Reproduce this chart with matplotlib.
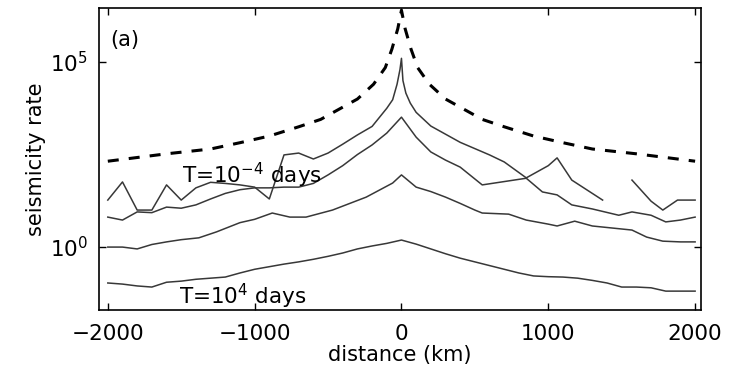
import numpy as np
import matplotlib
matplotlib.use("Agg")
import matplotlib.pyplot as plt

# distance from the fault centre (km) and log10 of seismicity rate for each curve
dist_dashed = [0, 25, 65, 110, 190, 300, 400, 550, 700, 900, 1100, 1300, 1600, 2000]
log_dashed = [6.4, 5.9, 5.35, 4.85, 4.4, 4.0, 3.78, 3.45, 3.25, 3.0, 2.82, 2.65, 2.52, 2.32]

# T = 1e-4 days (noisy, gaps where no events)
x_t1 = [-2000, -1900, -1800, -1700, -1600, -1500, -1400, -1300, -1200, -1100, -1000, -900,
        -800, -700, -600, -500, -400, -300, -200, -100, -60, -30, -10, 0, 10, 30, 60, 100,
        200, 300, 400, 500, 600, 700, 850, 1000, 1060, 1160, 1370, 1470, 1570, 1700, 1780,
        1880, 2000]
log_t1 = [1.27, 1.76, 1.0, 1.0, 1.68, 1.27, 1.6, 1.75, 1.72, 1.68, 1.62, 1.3,
          2.49, 2.54, 2.38, 2.54, 2.78, 3.03, 3.26, 3.75, 3.98, 4.4, 4.8, 5.1, 4.5, 4.16, 3.89, 3.64,
          3.27, 3.05, 2.83, 2.66, 2.49, 2.3, 1.87, 2.2, 2.41, 1.81, 1.27, np.nan, 1.81, 1.24, 1.0,
          1.27, 1.27]

x_t2 = [-2000, -1900, -1800, -1700, -1600, -1500, -1400, -1300, -1200, -1100, -1000, -900,
        -800, -700, -600, -500, -400, -300, -200, -100, 0, 100, 200, 300, 400, 500, 550,
        850, 960, 1060, 1160, 1300, 1480, 1570, 1700, 1800, 1900, 2000]
log_t2 = [0.81, 0.73, 0.95, 0.93, 1.08, 1.05, 1.14, 1.3, 1.45, 1.55, 1.6, 1.6,
          1.62, 1.62, 1.72, 1.95, 2.2, 2.5, 2.76, 3.08, 3.51, 2.97, 2.57, 2.35, 2.16, 1.84, 1.68,
          1.86, 1.49, 1.41, 1.14, 1.03, 0.86, 0.95, 0.86, 0.68, 0.73, 0.81]

x_t3 = [-2000, -1900, -1800, -1700, -1600, -1500, -1380, -1260, -1100, -1000, -880, -760,
        -650, -470, -240, -60, 0, 100, 200, 300, 400, 500, 550, 730, 850, 1000, 1060, 1180,
        1300, 1570, 1670, 1780, 1900, 2000]
log_t3 = [0.0, 0.0, -0.05, 0.07, 0.14, 0.2, 0.25, 0.41, 0.66, 0.75, 0.92, 0.81,
          0.81, 1.0, 1.35, 1.73, 1.95, 1.62, 1.5, 1.35, 1.18, 1.0, 0.92, 0.89, 0.73, 0.62, 0.57, 0.7,
          0.57, 0.46, 0.27, 0.16, 0.14, 0.14]

# T = 1e4 days
x_t4 = list(range(-2000, 2001, 100))
log_t4 = [-0.97, -1.0, -1.05, -1.08, -0.95, -0.92, -0.87, -0.84, -0.81, -0.7, -0.6,
          -0.53, -0.46, -0.4, -0.33, -0.25, -0.16, -0.05, 0.03, 0.1, 0.19,
          0.08, -0.05, -0.18, -0.3, -0.4, -0.5, -0.6, -0.7, -0.78, -0.8,
          -0.81, -0.84, -0.9, -0.97, -1.08, -1.08, -1.1, -1.19, -1.19, -1.19]

plt.rcParams['font.family'] = ['DejaVu Sans']

fig = plt.figure(figsize=(7.41, 3.73), dpi=100)
ax = fig.add_axes([0.1336, 0.1689, 0.8124, 0.8097])

d = np.array(dist_dashed, dtype=float)
xd = np.concatenate([-d[::-1], d[1:]])
yd = np.concatenate([np.array(log_dashed)[::-1], np.array(log_dashed)[1:]])
ax.plot(xd, 10 ** yd, color='black', lw=2.2, dashes=(3.6, 3.3))

line_col = '#383838'
for xs, ys in [(x_t1, log_t1), (x_t2, log_t2), (x_t3, log_t3), (x_t4, log_t4)]:
    ax.plot(xs, 10 ** np.array(ys, dtype=float), color=line_col, lw=1.1)

ax.set_yscale('log')
ax.set_xlim(-2060, 2040)
ax.set_ylim(10 ** -1.7, 10 ** 6.46)
ax.set_xticks([-2000, -1000, 0, 1000, 2000])
ax.set_yticks([1, 1e5])
ax.minorticks_off()
ax.tick_params(direction='in', top=True, right=True, length=5, width=1.0,
               labelsize=15.5)
ax.tick_params(axis='x', pad=10)
ax.tick_params(axis='y', pad=8)
for s in ax.spines.values():
    s.set_linewidth(1.2)

ax.set_xlabel('distance (km)', fontsize=15, labelpad=1)
ax.set_ylabel('seismicity rate', fontsize=15, labelpad=3)

ax.text(0.018, 0.895, '(a)', transform=ax.transAxes, fontsize=15, va='center', ha='left')
ax.text(-1492, 10 ** 1.73, r'T=10$^{-4}$ days', fontsize=15.5, ha='left', va='baseline')
ax.text(-1512, 10 ** -1.54, r'T=10$^{4}$ days', fontsize=15.5, ha='left', va='baseline')

fig.savefig('out.png', dpi=100)
